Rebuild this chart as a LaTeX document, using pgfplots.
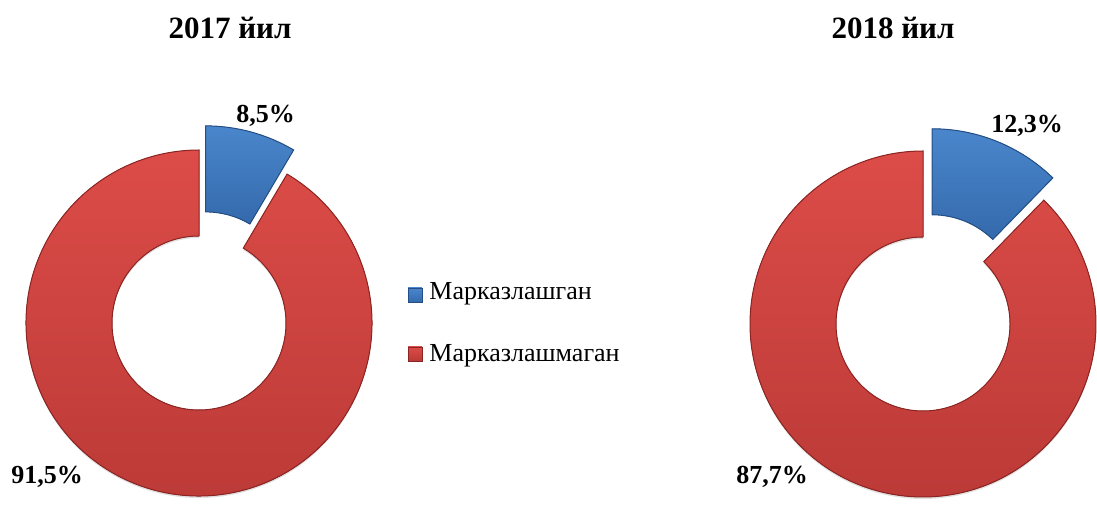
\documentclass[border=0pt]{standalone}
\usepackage{fontspec}
\setmainfont{Liberation Serif}
\usepackage{pgfplots}
\usepackage{pgfplotstable}
\pgfplotsset{compat=1.18}
\usetikzlibrary{calc}

\definecolor{blueL}{RGB}{74,134,204}
\definecolor{blueK}{RGB}{52,106,172}
\definecolor{blueD}{RGB}{36,78,132}
\definecolor{redL}{RGB}{220,76,72}
\definecolor{redK}{RGB}{186,57,54}
\definecolor{redD}{RGB}{140,36,34}

% shares in percent
\pgfplotstableread{
year central decentral
2017 8.5  91.5
2018 12.3 87.7
}\shares

% slice angles (clockwise from 12 o'clock)
\pgfplotstablegetelem{0}{central}\of\shares
\pgfmathsetmacro\aA{90-3.6*\pgfplotsretval}
\pgfmathsetmacro\mA{90-1.8*\pgfplotsretval}
\pgfplotstablegetelem{1}{central}\of\shares
\pgfmathsetmacro\aB{90-3.6*\pgfplotsretval}
\pgfmathsetmacro\mB{90-1.8*\pgfplotsretval}

% #1 cx, #2 cy (pixel coords), #3 start, #4 end angle, #5 shift angle, #6 shift, #7 style
\newcommand\seg[7]{%
  \fill[#7] ($(axis cs:#1,#2)+(#5:#6)+(#3:86.5pt)$) arc[start angle=#3,end angle=#4,radius=86.5pt]
    -- ($(axis cs:#1,#2)+(#5:#6)+(#4:43.5pt)$) arc[start angle=#4,end angle=#3,radius=43.5pt] -- cycle;
}

\begin{document}
\begin{tikzpicture}
\begin{axis}[
    name=ax,
    width=548.5pt, height=253.5pt, scale only axis,
    xmin=0, xmax=1097, ymin=0, ymax=507, y dir=reverse,
    hide axis, clip=false
]
% 2017
\seg{199}{325}{\aA}{-270}{0}{0pt}{black!12}
\seg{199}{323}{\aA}{-270}{0}{0pt}{top color=redL, bottom color=redK, draw=redD, line width=0.5pt}
\seg{199}{323}{90}{\aA}{\mA}{12.5pt}{top color=blueL, bottom color=blueK, draw=blueD, line width=0.5pt}
% 2018
\seg{923}{326}{\aB}{-270}{0}{0pt}{black!12}
\seg{923}{324}{\aB}{-270}{0}{0pt}{top color=redL, bottom color=redK, draw=redD, line width=0.5pt}
\seg{923}{324}{90}{\aB}{\mB}{12pt}{top color=blueL, bottom color=blueK, draw=blueD, line width=0.5pt}

% titles
\node[anchor=base, font=\fontsize{15.5}{18}\selectfont\bfseries] at (axis cs:230,39) {2017 йил};
\node[anchor=base, font=\fontsize{15.5}{18}\selectfont\bfseries] at (axis cs:893,39) {2018 йил};

% data labels
\node[anchor=base, font=\fontsize{13}{15}\selectfont\bfseries] at (axis cs:265.5,123) {8,5\%};
\node[anchor=base, font=\fontsize{13}{15}\selectfont\bfseries] at (axis cs:47,483) {91,5\%};
\node[anchor=base, font=\fontsize{13}{15}\selectfont\bfseries] at (axis cs:1027,133) {12,3\%};
\node[anchor=base, font=\fontsize{13}{15}\selectfont\bfseries] at (axis cs:772,483) {87,7\%};

% legend
\fill[top color=blueL, bottom color=blueK, draw=blueD, line width=0.4pt] (axis cs:408,288) rectangle (axis cs:422,302);
\fill[top color=redL, bottom color=redK, draw=redD, line width=0.4pt] (axis cs:408,347) rectangle (axis cs:422,361);
\node[anchor=base west, inner sep=0pt, font=\fontsize{13}{15}\selectfont] at (axis cs:429,300) {Марказлашган};
\node[anchor=base west, inner sep=0pt, font=\fontsize{13}{15}\selectfont] at (axis cs:429,362) {Марказлашмаган};
\end{axis}
\pgfresetboundingbox
\path[use as bounding box] (ax.south west) rectangle (ax.north east);
\end{tikzpicture}
\end{document}
